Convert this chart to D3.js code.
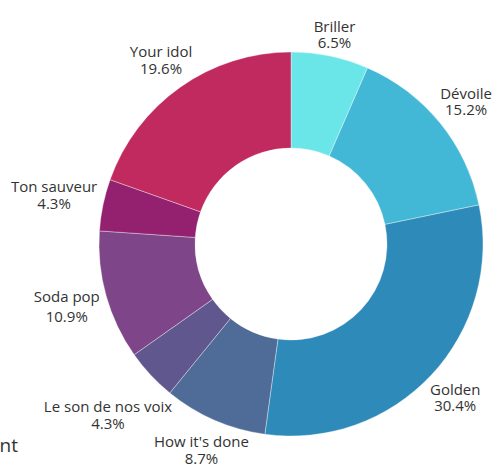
<!DOCTYPE html>
<html>
<head>
<meta charset="utf-8">
<script src="https://cdn.jsdelivr.net/npm/d3@7"></script>
<style>
  html, body { margin: 0; padding: 0; background: #fff; }
  svg { display: block; }
  text { font-family: "Open Sans", "Noto Sans", sans-serif; fill: #333; }
</style>
</head>
<body>
<svg id="chart" width="493" height="466"></svg>
<script>
const categories = ["Briller", "Dévoile", "Golden", "How it's done", "Le son de nos voix", "Soda pop", "Ton sauveur", "Your idol"];
const values = [3, 7, 14, 4, 2, 5, 2, 9];
const colors = ["#6ae6e8", "#43b8d6", "#2e8ab9", "#4f6b97", "#5f578e", "#7e4689", "#94216f", "#c02a5e"];

const W = 493, H = 466;
const cx = 291, cy = 244;
const R = 192, r0 = 96;

const svg = d3.select("#chart");
const total = d3.sum(values);
const data = categories.map((c, i) => ({ name: c, value: values[i], color: colors[i] }));

const pie = d3.pie().value(d => d.value).sort(null);
const arc = d3.arc().innerRadius(r0).outerRadius(R);
const arcs = pie(data);

const g = svg.append("g").attr("transform", `translate(${cx},${cy})`);
g.selectAll("path").data(arcs).join("path")
  .attr("d", arc)
  .attr("fill", d => d.data.color)
  .attr("stroke", "#ffffff")
  .attr("stroke-opacity", 0.6)
  .attr("stroke-width", 0.6);

const fmt = v => (v / total * 100).toFixed(1) + "%";
const labelGapR = 197;   // distance from centre to nearest corner of the label block
const fontSize = 15;
const capH = 11;

arcs.forEach(a => {
  const mid = (a.startAngle + a.endAngle) / 2;
  const ux = Math.sin(mid), uy = -Math.cos(mid);
  const gap = /[gjpqy]/.test(a.data.name) ? 20 : 16.5;
  const txt = g.append("text").attr("text-anchor", "middle").attr("font-size", fontSize);
  const s1 = txt.append("tspan").attr("x", 0).attr("y", 0).text(a.data.name);
  const s2 = txt.append("tspan").attr("x", 0).attr("y", gap).text(fmt(a.data.value));
  const w = Math.max(s1.node().getComputedTextLength(), s2.node().getComputedTextLength());
  const h = gap + capH;
  const hw = w / 2, hh = h / 2;
  // find distance t along the mid ray so the nearest point of the box sits at labelGapR
  const nearest = t => {
    const bx = ux * t, by = uy * t;
    const nx = Math.max(Math.abs(bx) - hw, 0);
    const ny = Math.max(Math.abs(by) - hh, 0);
    return Math.hypot(nx, ny);
  };
  let lo = 0, hi = 600;
  for (let k = 0; k < 60; k++) {
    const m = (lo + hi) / 2;
    if (nearest(m) < labelGapR) lo = m; else hi = m;
  }
  const t = (lo + hi) / 2;
  const bxc = ux * t, byc = uy * t;
  const baseline1 = byc - (gap - capH) / 2;
  txt.attr("transform", `translate(${bxc},${baseline1})`);
});

// partially visible title text at the lower left
svg.append("text").attr("x", 18).attr("y", 452).attr("text-anchor", "end")
  .attr("font-size", 19).text("nt");
</script>
</body>
</html>
